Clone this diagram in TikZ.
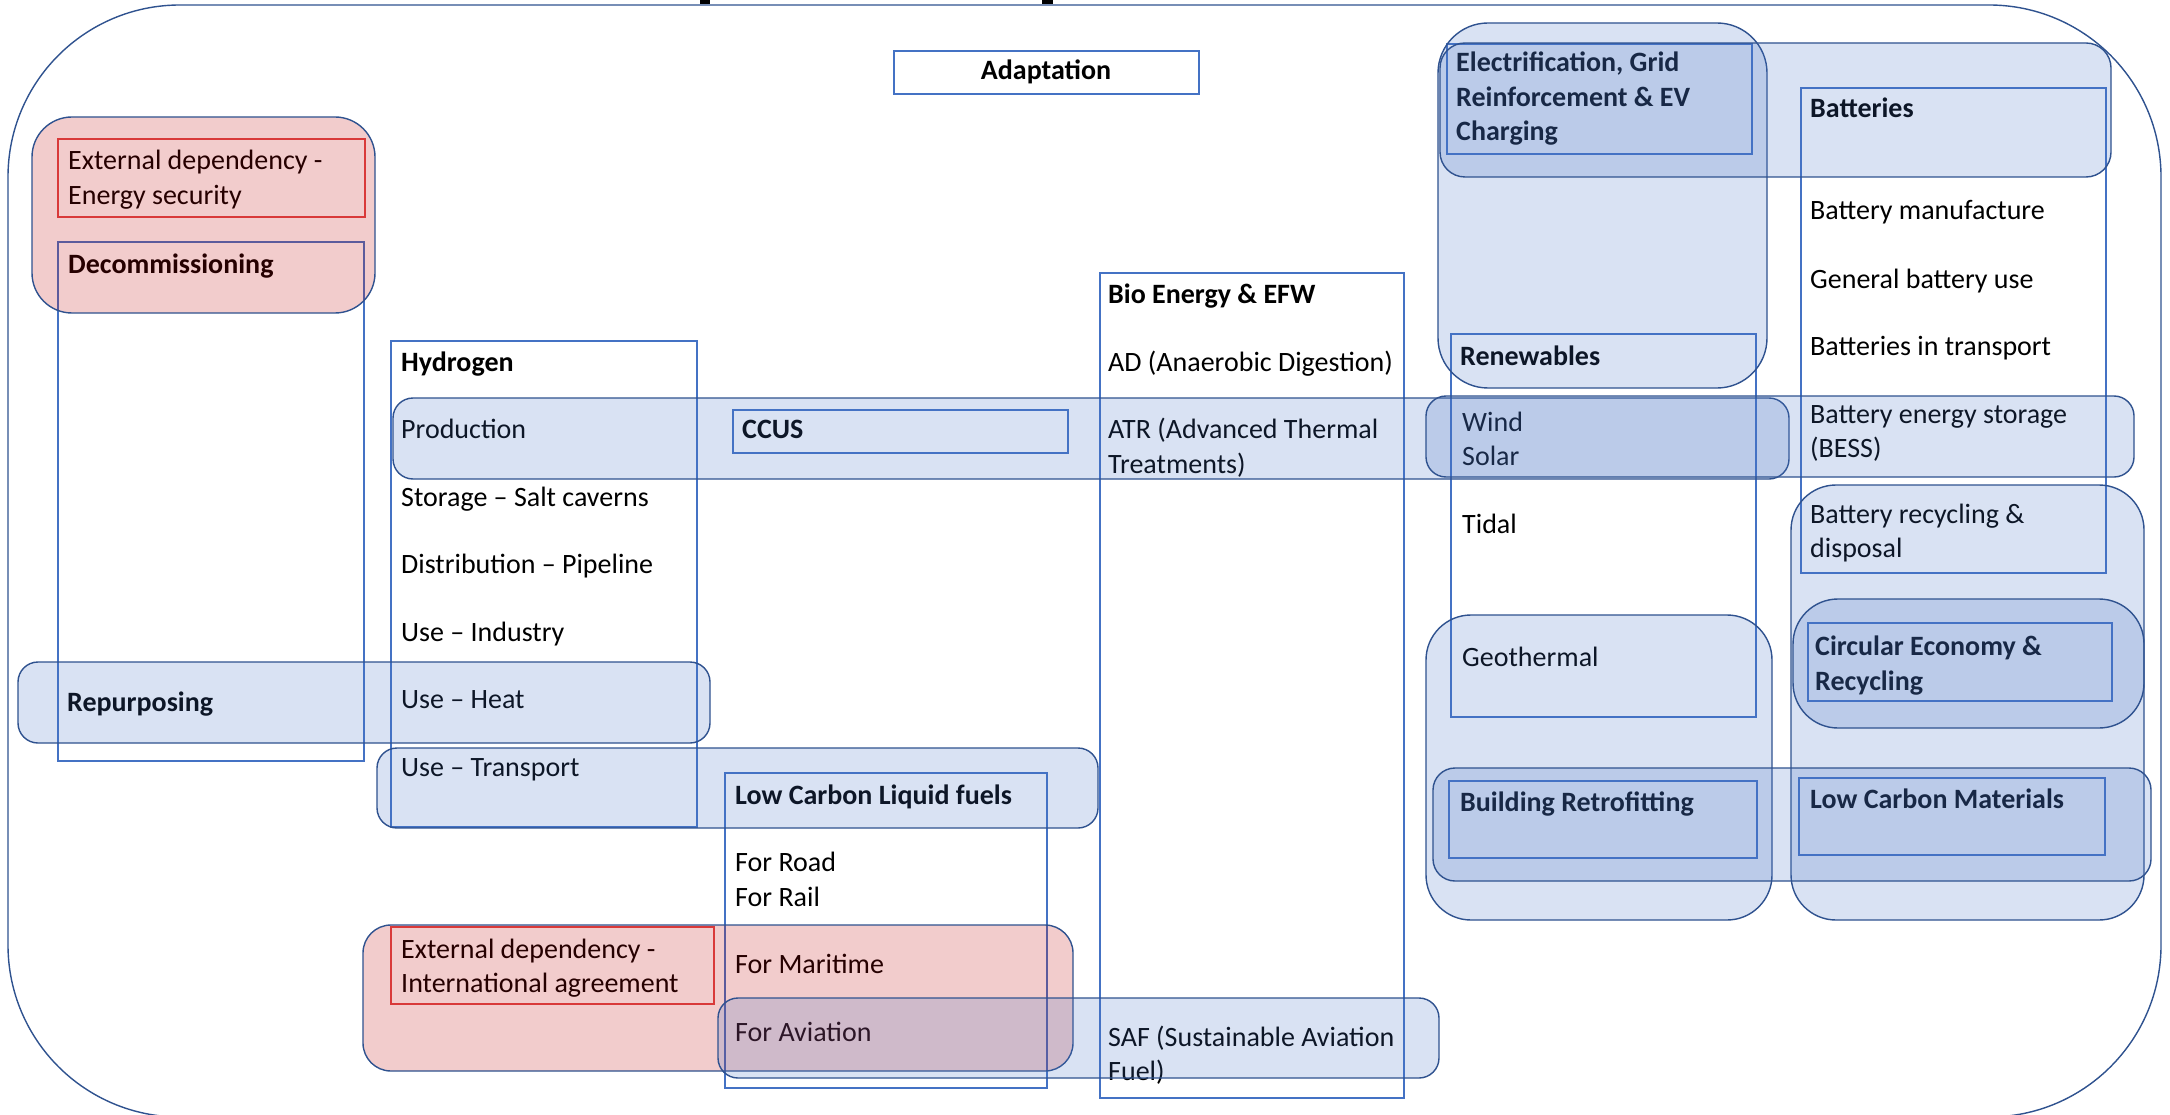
\documentclass[tikz,border=0pt]{standalone}
\usepackage{fontspec}
\setmainfont{Carlito}
\definecolor{boxblue}{HTML}{4472C4}
\definecolor{ovborder}{HTML}{2F528F}
\definecolor{ovfill}{HTML}{4472C4}
\definecolor{pinkfill}{HTML}{C00000}
\definecolor{redline}{HTML}{E04848}
\begin{document}
\begin{tikzpicture}[x=1pt,y=-1pt,
  box/.style={draw=boxblue,line width=1.3pt},
  redbox/.style={draw=redline,line width=1.3pt},
  ov/.style={draw=ovborder,line width=1.4pt,fill=ovfill,fill opacity=0.2},
  pinkov/.style={draw=ovborder,line width=1.4pt,fill=pinkfill,fill opacity=0.2},
  txt/.style={anchor=base west,inner sep=0pt,font=\fontsize{28}{34}\selectfont},
  btxt/.style={anchor=base west,inner sep=0pt,font=\fontsize{28}{34}\selectfont\bfseries},
]
\useasboundingbox (0,0) rectangle (2170,1115);
\clip (0,0) rectangle (2170,1115);
\fill[white] (0,0) rectangle (2170,1115);

% cut-off title fragments
\fill[black] (700,0) rectangle (710,4);
\fill[black] (1042,0) rectangle (1053,4);

% outer frame
\draw[draw=ovborder,line width=1.4pt,rounded corners=172pt] (8,5) rectangle (2161,1117);

% ---------- boxes ----------
\draw[box] (894,51) rectangle (1199,94);
\draw[redbox] (58,139) rectangle (365,217);
\draw[box] (58,242) rectangle (364,761);
\draw[box] (391,341) rectangle (697,827);
\draw[box] (733,410) rectangle (1068,453);
\draw[box] (1100,273) rectangle (1404,1098);
\draw[box] (725,773) rectangle (1047,1088);
\draw[redbox] (391,927) rectangle (714,1004);
\draw[box] (1447,44) rectangle (1752,154);
\draw[box] (1801,88) rectangle (2106,573);
\draw[box] (1451,334) rectangle (1756,717);
\draw[box] (1808,623) rectangle (2112,701);
\draw[box] (1449,781) rectangle (1757,858);
\draw[box] (1799,778) rectangle (2105,855);

% ---------- texts ----------
\node[btxt,anchor=base] (adapt) at (1046,80) {Adaptation};

\node[txt] (es1) at (68,170) {External dependency -};
\node[txt] (es2) at (68,205) {Energy security};
\node[btxt] (decom) at (68,273) {Decommissioning};

\node[btxt] (hyd) at (401,371) {Hydrogen};
\node[txt] (prod) at (401,438) {Production};
\node[txt] (stor) at (401,506) {Storage – Salt caverns};
\node[txt] (dist) at (401,573) {Distribution – Pipeline};
\node[txt] (ind) at (401,641) {Use – Industry};
\node[txt] (heat) at (401,708) {Use – Heat};
\node[txt] (trans) at (401,776) {Use – Transport};

\node[btxt] (repur) at (67,711) {Repurposing};
\node[btxt] (ccus) at (742,438) {CCUS};

\node[btxt] (bio) at (1108,303) {Bio Energy \& EFW};
\node[txt] (ad) at (1108,371) {AD (Anaerobic Digestion)};
\node[txt] (atr1) at (1108,438) {ATR (Advanced Thermal};
\node[txt] (atr2) at (1108,473) {Treatments)};
\node[txt] (saf1) at (1108,1046) {SAF (Sustainable Aviation};
\node[txt] (saf2) at (1108,1080) {Fuel)};

\node[btxt] (lclf) at (735,804) {Low Carbon Liquid fuels};
\node[txt] (road) at (735,871) {For Road};
\node[txt] (rail) at (735,906) {For Rail};
\node[txt] (mari) at (735,973) {For Maritime};
\node[txt] (avia) at (735,1041) {For Aviation};

\node[txt] (ia1) at (401,958) {External dependency -};
\node[txt] (ia2) at (401,992) {International agreement};

\node[btxt] (el1) at (1456,72) {Electrification, Grid};
\node[btxt] (el2) at (1456,107) {Reinforcement \& EV};
\node[btxt] (el3) at (1456,141) {Charging};

\node[btxt] (batt) at (1810,118) {Batteries};
\node[txt] (bm) at (1810,220) {Battery manufacture};
\node[txt] (gb) at (1810,288) {General battery use};
\node[txt] (bt) at (1810,355) {Batteries in transport};
\node[txt] (bess1) at (1810,423) {Battery energy storage};
\node[txt] (bess2) at (1810,457) {(BESS)};
\node[txt] (brec1) at (1810,523) {Battery recycling \&};
\node[txt] (brec2) at (1810,557) {disposal};

\node[btxt] (ren) at (1460,365) {Renewables};
\node[txt] (wind) at (1462,431) {Wind};
\node[txt] (solar) at (1462,465) {Solar};
\node[txt] (tidal) at (1462,533) {Tidal};
\node[txt] (geo) at (1462,666) {Geothermal};

\node[btxt] (ce1) at (1815,655) {Circular Economy \&};
\node[btxt] (ce2) at (1815,690) {Recycling};
\node[btxt] (bret) at (1460,811) {Building Retrofitting};
\node[btxt] (lcm) at (1810,808) {Low Carbon Materials};

% ---------- translucent overlays ----------
\draw[pinkov,rounded corners=40pt] (32,117) rectangle (375,313);
\draw[ov,rounded corners=20pt] (393,398) rectangle (1789,479);
\draw[ov,rounded corners=20pt] (1426,396) rectangle (2134,477);
\draw[ov,rounded corners=20pt] (18,662) rectangle (710,743);
\draw[ov,rounded corners=20pt] (377,748) rectangle (1098,828);
\draw[pinkov,rounded corners=28pt] (363,925) rectangle (1073,1071);
\draw[ov,rounded corners=20pt] (718,998) rectangle (1439,1078);
\draw[ov,rounded corners=50pt] (1438,23) rectangle (1767,388);
\draw[ov,rounded corners=25pt] (1440,43) rectangle (2111,177);
\draw[ov,rounded corners=45pt] (1791,485) rectangle (2144,920);
\draw[ov,rounded corners=45pt] (1793,599) rectangle (2144,728);
\draw[ov,rounded corners=45pt] (1426,615) rectangle (1772,920);
\draw[ov,rounded corners=22pt] (1433,768) rectangle (2151,881);
\end{tikzpicture}
\end{document}
